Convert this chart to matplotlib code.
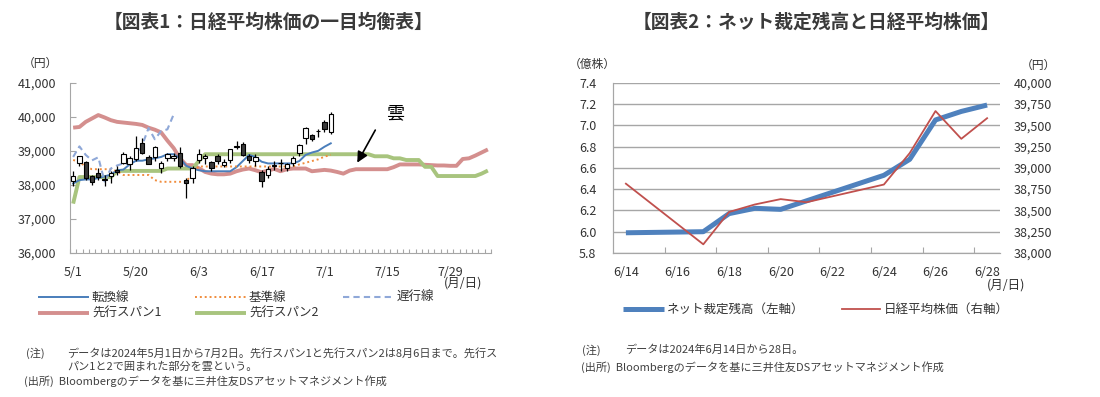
import matplotlib

matplotlib.use("Agg")
import matplotlib.pyplot as plt
import numpy as np
from matplotlib.lines import Line2D
from matplotlib.ticker import FuncFormatter, MultipleLocator

plt.rcParams["font.family"] = ["Noto Sans CJK JP", "DejaVu Sans"]

# ── Chart 1 data: daily candles 5/1 - 7/2 (index = trading day) ─────────
candle_open = [38100, 38650, 38680, 38250, 38350, 38150, 38250, 38450, 38640, 38600,
               38750, 39230, 38820, 38810, 38500, 38780, 38800, 38930, 38150, 38200,
               38720, 38780, 38680, 38850, 38580, 38720, 39120, 39200, 38850, 38700,
               38380, 38300, 38550, 38650, 38500, 38650, 38950, 39380, 39460, 39570,
               39850, 39560]
candle_high = [38420, 38850, 38700, 38300, 38490, 38300, 38400, 38560, 38970, 38850,
               39440, 39380, 38880, 39150, 38700, 38950, 38950, 39120, 38200, 38550,
               39050, 38900, 38700, 38900, 38750, 39050, 39300, 39250, 38900, 38900,
               38450, 38550, 38700, 38750, 38650, 38850, 39200, 39700, 39500, 39650,
               39900, 40150]
candle_low = [37960, 38560, 38150, 38000, 38150, 37980, 38050, 38300, 38600, 38450,
              38700, 38900, 38600, 38700, 38350, 38700, 38700, 38500, 37620, 38050,
              38650, 38600, 38400, 38600, 38520, 38650, 39050, 38850, 38650, 38550,
              37950, 38200, 38450, 38400, 38400, 38550, 38850, 39200, 39300, 39400,
              39550, 39500]
candle_close = [38270, 38835, 38200, 38070, 38230, 38180, 38350, 38390, 38920, 38790,
                39070, 38950, 38620, 39100, 38650, 38900, 38860, 38560, 38050, 38490,
                38920, 38840, 38490, 38700, 38680, 39040, 39130, 38880, 38720, 38810,
                38100, 38480, 38570, 38630, 38600, 38800, 39170, 39670, 39340, 39580,
                39630, 40070]

tenkan = [38040, 38140, 38160, 38160, 38200, 38250, 38300, 38430, 38450, 38600,
          38710, 38710, 38750, 38780, 38820, 38900, 38900, 38780, 38560, 38480,
          38430, 38400, 38400, 38400, 38400, 38400, 38520, 38700, 38880, 38820,
          38680, 38630, 38630, 38630, 38630, 38630, 38700, 38880, 38950, 39000,
          39120, 39220]
kijun = [38730, 38680, 38530, 38460, 38460, 38460, 38460, 38400, 38290, 38290,
         38290, 38290, 38290, 38140, 38090, 38090, 38090, 38090, 38090, 38350,
         38540, 38540, 38540, 38540, 38540, 38540, 38540, 38540, 38540, 38540,
         38540, 38540, 38540, 38540, 38540, 38540, 38600, 38650, 38700, 38750,
         38830, 38880]
chikou = [38820, 39130, 38880, 38720, 38810, 38100, 38480, 38570, 38630, 38600,
          38800, 39170, 39670, 39340, 39580, 39630, 40070]
span1 = [39680, 39700, 39850, 39950, 40050, 39980, 39900, 39850, 39830, 39810,
         39790, 39760, 39680, 39620, 39540, 39300, 39080, 38780, 38580, 38580,
         38490, 38380, 38330, 38310, 38310, 38330, 38400, 38450, 38480, 38430,
         38370, 38420, 38470, 38400, 38460, 38480, 38480, 38480, 38400, 38420,
         38440, 38420, 38380, 38330, 38420, 38460, 38460, 38460, 38460, 38460,
         38460, 38520, 38600, 38600, 38600, 38600, 38590, 38580, 38570, 38570,
         38560, 38560, 38760, 38780, 38860, 38950, 39040]
span2 = [37450, 38230, 38230, 38230, 38230, 38230, 38230, 38410, 38410, 38410,
         38410, 38410, 38410, 38410, 38410, 38480, 38480, 38480, 38480, 38480,
         38700, 38900, 38900, 38900, 38900, 38900, 38900, 38900, 38900, 38900,
         38900, 38900, 38900, 38900, 38900, 38900, 38900, 38900, 38900, 38900,
         38900, 38900, 38900, 38900, 38900, 38900, 38900, 38900, 38840, 38840,
         38840, 38780, 38780, 38730, 38730, 38730, 38530, 38530, 38260, 38260,
         38260, 38260, 38260, 38260, 38260, 38330, 38420]
date_labels = ["5/1", "5/20", "6/3", "6/17", "7/1", "7/15", "7/29"]

# ── Chart 2 data: 6/14 - 6/28 ──────────────────────────────────────────
arb_days = [14, 17, 18, 19, 20, 21, 24, 25, 26, 27, 28]
arb_balance = [5.99, 6.00, 6.17, 6.22, 6.21, 6.29, 6.53, 6.68, 7.05, 7.13, 7.19]
nikkei_close = [38814, 38102, 38482, 38570, 38633, 38596, 38804, 39173, 39667, 39341, 39583]

# ── Colors ────────────────────────────────────────────────────────────
C_TENKAN = "#4A7EBB"
C_KIJUN = "#F08C3C"
C_CHIKOU = "#8FA8D8"
C_SPAN1 = "#D48F8E"
C_SPAN2 = "#A8C47E"
C_ARB = "#4F81BD"
C_NK = "#C0504D"
C_AXIS = "#A6A6A6"
C_TEXT = "#333333"
C_NOTE = "#404040"

W, H = 1100, 397


def fx(px):
    return px / W


def fy(py):
    return 1 - py / H


fig = plt.figure(figsize=(11, 3.97), dpi=100)
fig.patch.set_facecolor("white")

# ── Titles ────────────────────────────────────────────────────────────
fig.text(fx(268), fy(22), "【図表1：日経平均株価の一目均衡表】", ha="center", va="center",
         fontsize=13.5, fontweight="bold", color="#3A3A3A")
fig.text(fx(816), fy(22), "【図表2：ネット裁定残高と日経平均株価】", ha="center", va="center",
         fontsize=13.5, fontweight="bold", color="#3A3A3A")

# ── Chart 1 ───────────────────────────────────────────────────────────
ax1 = fig.add_axes([fx(70), fy(253), fx(491 - 70), (253 - 82.7) / H])
n_days = len(span1)
xi = np.arange(n_days)

# candles
idx = np.arange(len(candle_close))
o = np.array(candle_open)
c = np.array(candle_close)
ax1.vlines(idx, candle_low, candle_high, color="black", lw=0.9, zorder=4)
up = c >= o
ax1.bar(idx[up], (c - o)[up], bottom=o[up], width=0.7, facecolor="white",
        edgecolor="black", lw=0.8, zorder=5)
ax1.bar(idx[~up], (o - c)[~up], bottom=c[~up], width=0.7, facecolor="#3A3A3A",
        edgecolor="black", lw=0.8, zorder=5)

ax1.plot(xi, span1, color=C_SPAN1, lw=2.8, zorder=2, solid_capstyle="butt")
ax1.plot(xi, span2, color=C_SPAN2, lw=2.8, zorder=2, solid_capstyle="butt")
ax1.plot(np.arange(len(tenkan)), tenkan, color=C_TENKAN, lw=1.4, zorder=3)
ax1.plot(np.arange(len(kijun)), kijun, color=C_KIJUN, lw=1.4, ls=(0, (1, 1.5)), zorder=3)
ax1.plot(np.arange(len(chikou)), chikou, color=C_CHIKOU, lw=1.5, ls=(0, (3, 2)), zorder=3)

ax1.set_xlim(-0.5, n_days - 0.5)
ax1.set_ylim(36000, 41000)
ax1.yaxis.set_major_locator(MultipleLocator(1000))
ax1.yaxis.set_major_formatter(FuncFormatter(lambda v, p: f"{int(v):,}"))
ax1.set_xticks(np.arange(0, 10 * len(date_labels), 10))
ax1.set_xticklabels(date_labels)
ax1.set_xticks(np.arange(-0.5, n_days, 1), minor=True)
ax1.tick_params(axis="x", which="major", length=0, pad=9, labelsize=9, colors=C_TEXT)
ax1.tick_params(axis="x", which="minor", direction="in", length=3, color=C_AXIS, width=0.8)
ax1.tick_params(axis="y", direction="in", length=4, color=C_AXIS, pad=10,
                labelsize=9, labelcolor=C_TEXT)
for s in ["top", "right"]:
    ax1.spines[s].set_visible(False)
for s in ["left", "bottom"]:
    ax1.spines[s].set_color(C_AXIS)

ax1.annotate("", xy=(45, 38580), xytext=(48.3, 39680),
             arrowprops=dict(arrowstyle="-|>", color="black", lw=1.2, mutation_scale=16))
ax1.text(51.2, 40110, "雲", ha="center", va="center", fontsize=13, color="black")

fig.text(fx(40), fy(63), "（円）", ha="center", va="center", fontsize=8.5, color=C_TEXT)
fig.text(fx(482), fy(283), "(月/日)", ha="right", va="center", fontsize=9, color=C_TEXT)

# legend (manual)
leg1 = [
    (38, 297, C_TENKAN, 1.4, "-", "転換線"),
    (195, 297, C_KIJUN, 1.4, (0, (1, 1.5)), "基準線"),
    (343, 297, C_CHIKOU, 1.5, (0, (3, 2)), "遅行線"),
    (38, 313, C_SPAN1, 2.8, "-", "先行スパン1"),
    (195, 313, C_SPAN2, 2.8, "-", "先行スパン2"),
]
for x0, y0, col, lw, ls, lab in leg1:
    fig.add_artist(Line2D([fx(x0), fx(x0 + 51)], [fy(y0), fy(y0)], color=col, lw=lw, ls=ls,
                          solid_capstyle="butt"))
    fig.text(fx(x0 + 54), fy(y0), lab, ha="left", va="center", fontsize=9, color=C_TEXT)

fig.text(fx(26), fy(353), "(注)", ha="left", va="center", fontsize=8, color=C_NOTE)
fig.text(fx(67), fy(353),
         "データは2024年5月1日から7月2日。先行スパン1と先行スパン2は8月6日まで。先行ス",
         ha="left", va="center", fontsize=8, color=C_NOTE)
fig.text(fx(67), fy(367), "パン1と2で囲まれた部分を雲という。",
         ha="left", va="center", fontsize=8, color=C_NOTE)
fig.text(fx(24), fy(381), "(出所)  Bloombergのデータを基に三井住友DSアセットマネジメント作成",
         ha="left", va="center", fontsize=8, color=C_NOTE)

# ── Chart 2 ───────────────────────────────────────────────────────────
ax2 = fig.add_axes([fx(613), fy(253), fx(1000 - 613), (253 - 82.7) / H])
ax3 = ax2.twinx()

ax2.plot(arb_days, arb_balance, color=C_ARB, lw=3.6, zorder=3, solid_capstyle="butt")
ax3.plot(arb_days, nikkei_close, color=C_NK, lw=1.3, zorder=4)

ax2.set_xlim(13.5, 28.5)
ax2.set_ylim(5.8, 7.4)
ax3.set_ylim(38000, 40000)
ax2.yaxis.set_major_locator(MultipleLocator(0.2))
ax2.yaxis.set_major_formatter(FuncFormatter(lambda v, p: f"{v:.1f}"))
ax3.yaxis.set_major_locator(MultipleLocator(250))
ax3.yaxis.set_major_formatter(FuncFormatter(lambda v, p: f"{int(v):,}"))
ax2.grid(axis="y", color=C_AXIS, lw=1.0)
ax2.set_axisbelow(True)

ax2.set_xticks(np.arange(14, 29, 2))
ax2.set_xticklabels([f"6/{d}" for d in range(14, 29, 2)])
ax2.set_xticks(np.arange(15.5, 28, 2), minor=True)
ax2.tick_params(axis="x", which="major", length=0, pad=9, labelsize=9, colors=C_TEXT)
ax2.tick_params(axis="x", which="minor", direction="in", length=4, color=C_AXIS, width=0.8)
ax2.tick_params(axis="y", length=0, pad=12, labelsize=9, labelcolor=C_TEXT)
ax3.tick_params(axis="y", length=0, pad=10, labelsize=9, labelcolor=C_TEXT)
for a in (ax2, ax3):
    a.spines["top"].set_visible(False)
    a.spines["right"].set_visible(False)
    a.spines["left"].set_color(C_AXIS)
    a.spines["bottom"].set_color(C_AXIS)

fig.text(fx(592), fy(64), "（億株）", ha="center", va="center", fontsize=8.5, color=C_TEXT)
fig.text(fx(1038), fy(65), "（円）", ha="center", va="center", fontsize=8.5, color=C_TEXT)
fig.text(fx(1025), fy(285), "(月/日)", ha="right", va="center", fontsize=9, color=C_TEXT)

fig.add_artist(Line2D([fx(623), fx(664)], [fy(309), fy(309)], color=C_ARB, lw=3.6,
                      solid_capstyle="butt"))
fig.text(fx(667), fy(309), "ネット裁定残高（左軸）", ha="left", va="center", fontsize=9, color=C_TEXT)
fig.add_artist(Line2D([fx(842), fx(880)], [fy(309), fy(309)], color=C_NK, lw=1.3))
fig.text(fx(884), fy(309), "日経平均株価（右軸）", ha="left", va="center", fontsize=9, color=C_TEXT)

fig.text(fx(582), fy(350), "(注)", ha="left", va="center", fontsize=8, color=C_NOTE)
fig.text(fx(625), fy(350), "データは2024年6月14日から28日。", ha="left", va="center",
         fontsize=8, color=C_NOTE)
fig.text(fx(581), fy(367), "(出所)  Bloombergのデータを基に三井住友DSアセットマネジメント作成",
         ha="left", va="center", fontsize=8, color=C_NOTE)

fig.savefig("out.png", dpi=100, facecolor="white")
plt.close(fig)
